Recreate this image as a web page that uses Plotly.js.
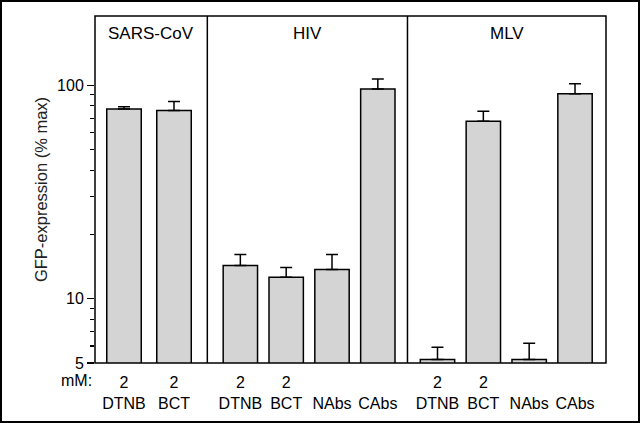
<!DOCTYPE html>
<html>
<head>
<meta charset="utf-8">
<script src="https://cdn.plot.ly/plotly-3.0.1.min.js"></script>
<style>
  body { margin: 0; background: #fff; }
  #wrap { position: relative; width: 640px; height: 423px; }
  #frame { position: absolute; left: 0; top: 0; width: 640px; height: 423px;
           box-sizing: border-box; border: 2px solid #000; pointer-events: none; }
</style>
</head>
<body>
<div id="wrap">
  <div id="plot"></div>
  <div id="frame"></div>
</div>
<script>
// values (GFP-expression, % max)
var sarsLabels = ["2<br>DTNB", "2<br>BCT"];
var sarsValues = [77.2, 76.1];
var sarsErr = [1.9, 7.7];

var hivLabels = ["2<br>DTNB", "2<br>BCT", "\u00a0<br>NAbs", "\u00a0<br>CAbs"];
var hivValues = [14.3, 12.6, 13.7, 95.8];
var hivErr = [1.8, 1.4, 2.4, 10.9];

var mlvLabels = ["2<br>DTNB", "2<br>BCT", "\u00a0<br>NAbs", "\u00a0<br>CAbs"];
var mlvValues = [5.19, 67.8, 5.19, 91.1];
var mlvErr = [0.74, 7.7, 1.0, 10.4];

var panelNames = ["SARS-CoV", "HIV", "MLV"];

var yTicks = [5, 10, 100];
var yMinor = [6, 7, 8, 9, 20, 30, 40, 50, 60, 70, 80, 90];

var font = "Liberation Sans, Arial, Helvetica, sans-serif";

function barTrace(labels, values, errs, xa, w) {
  return {
    type: "bar",
    x: labels,
    y: values,
    xaxis: xa,
    yaxis: "y",
    width: w,
    marker: { color: "#d4d4d4", line: { color: "#000", width: 1.5 } },
    error_y: {
      type: "data",
      symmetric: false,
      array: errs,
      arrayminus: errs.map(function () { return 0; }),
      color: "#000",
      thickness: 1.5,
      width: 6
    },
    showlegend: false,
    hoverinfo: "skip"
  };
}

var traces = [
  barTrace(sarsLabels, sarsValues, sarsErr, "x", 0.69),
  barTrace(hivLabels, hivValues, hivErr, "x2", 0.75),
  barTrace(mlvLabels, mlvValues, mlvErr, "x3", 0.75)
];

function xAxis(domain, range) {
  return {
    domain: domain,
    range: range,
    type: "category",
    showgrid: false,
    zeroline: false,
    showline: false,
    ticks: "",
    ticklabelstandoff: 8,
    tickfont: { family: font, size: 16, color: "#000" },
    fixedrange: true
  };
}

var d1 = 0.2198, d2 = 0.6115;

var shapes = [
  { type: "rect", xref: "paper", yref: "paper", x0: 0, x1: 1, y0: 0, y1: 1,
    line: { color: "#000", width: 1.5 } },
  { type: "line", xref: "paper", yref: "paper", x0: d1, x1: d1, y0: 0, y1: 1,
    line: { color: "#000", width: 1.5 } },
  { type: "line", xref: "paper", yref: "paper", x0: d2, x1: d2, y0: 0, y1: 1,
    line: { color: "#000", width: 1.5 } }
];

var annotations = panelNames.map(function (name, i) {
  var xr = ["x domain", "x2 domain", "x3 domain"][i];
  return {
    text: name, xref: xr, yref: "paper", x: 0.5, y: 0.951,
    showarrow: false, xanchor: "center", yanchor: "middle",
    font: { family: font, size: 17, color: "#000" }
  };
});
annotations.push({
  text: "mM:", xref: "paper", yref: "paper", x: -0.002, y: -0.05,
  showarrow: false, xanchor: "right", yanchor: "middle",
  font: { family: font, size: 16, color: "#000" }
});

var layout = {
  width: 640,
  height: 423,
  margin: { l: 95, r: 34, t: 16, b: 60 },
  paper_bgcolor: "#fff",
  plot_bgcolor: "#fff",
  xaxis: xAxis([0, d1], [-0.58, 1.666]),
  xaxis2: xAxis([d1, d2], [-0.721, 3.647]),
  xaxis3: xAxis([d2, 1], [-0.655, 3.676]),
  yaxis: {
    type: "log",
    range: [Math.log10(5), 2.3235],
    tickmode: "array",
    tickvals: yTicks,
    ticktext: yTicks.map(String),
    ticks: "outside",
    ticklen: 7,
    tickwidth: 1.2,
    tickcolor: "#000",
    minor: { tickmode: "array", tickvals: yMinor, ticks: "outside", ticklen: 4,
             tickwidth: 1.2, tickcolor: "#000", showgrid: false },
    showgrid: false,
    zeroline: false,
    showline: false,
    tickfont: { family: font, size: 16, color: "#000" },
    title: { text: "GFP-expression (% max)", standoff: 5,
             font: { family: font, size: 16.5, color: "#222" } },
    fixedrange: true
  },
  shapes: shapes,
  annotations: annotations
};

Plotly.newPlot("plot", traces, layout, { displayModeBar: false, staticPlot: true });
</script>
</body>
</html>
